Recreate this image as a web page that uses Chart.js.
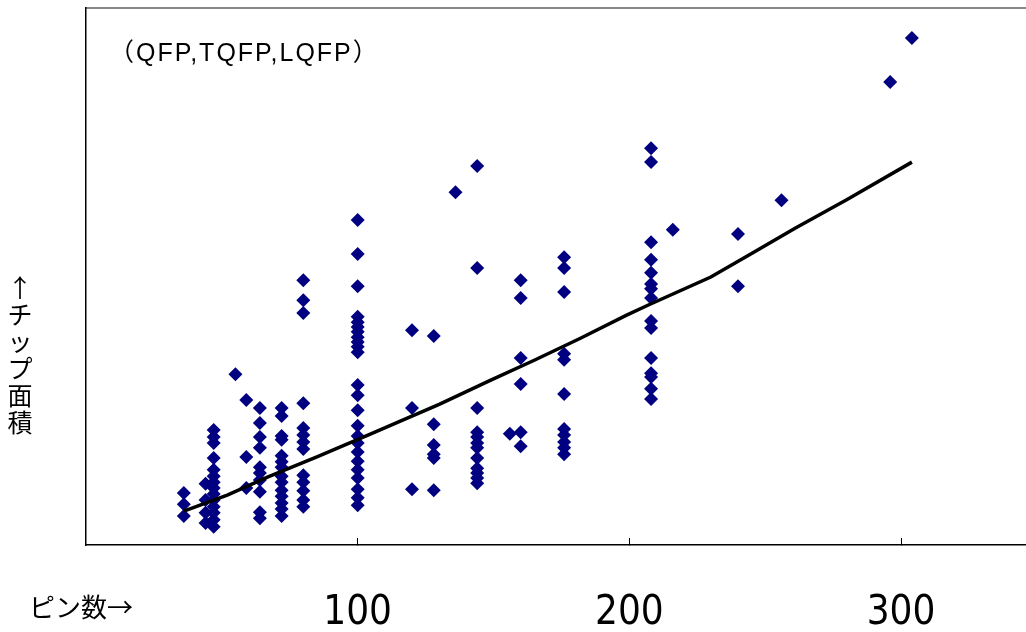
<!DOCTYPE html>
<html>
<head>
<meta charset="utf-8">
<script src="https://cdn.jsdelivr.net/npm/chart.js@4"></script>
<style>
  html, body { margin: 0; padding: 0; background: #fff; }
  #wrap { width: 1026px; height: 632px; position: relative; }
</style>
</head>
<body>
<div id="wrap"><canvas id="chart"></canvas></div>
<script>
// ピン数（横軸）
const pinCounts = [36, 44, 47, 55, 59, 64, 72, 80, 100, 120, 128, 136, 144, 156, 160, 176, 208, 216, 240, 256, 296, 304];
// チップ面積（縦軸、目盛なしの相対値） — pinCounts と同じ並び
const chipAreas = [
  [9.7, 7.6, 5.4],
  [11.4, 8.4, 6.0, 4.1],
  [21.4, 20.1, 19.0, 16.2, 14.0, 12.8, 11.7, 10.6, 9.5, 8.4, 7.1, 6.0, 4.7, 3.4],
  [31.8],
  [27.0, 16.4, 10.6],
  [25.5, 22.7, 20.1, 18.1, 14.5, 13.4, 12.1, 9.9, 6.1, 5.0],
  [25.5, 24.0, 20.3, 19.6, 16.6, 15.5, 14.5, 12.8, 11.7, 10.2, 9.1, 7.8, 6.7, 5.4],
  [49.3, 45.6, 43.2, 26.4, 21.8, 20.5, 19.2, 17.9, 13.0, 11.7, 10.1, 8.4, 7.1],
  [60.5, 54.2, 48.2, 42.5, 41.5, 40.6, 39.7, 38.7, 37.8, 36.9, 35.9, 29.8, 27.9, 25.1, 22.2, 20.3, 19.0, 17.3, 15.6, 14.0, 12.5, 10.4, 8.8, 7.4],
  [40.0, 25.5, 10.4],
  [38.9, 22.5, 18.6, 16.9, 16.2, 10.2],
  [65.7],
  [70.6, 51.6, 25.5, 21.0, 20.1, 19.0, 18.1, 16.2, 14.3, 13.4, 12.5, 11.5],
  [20.7],
  [49.3, 46.0, 34.8, 30.0, 21.0, 18.4],
  [53.6, 51.6, 47.1, 35.6, 34.5, 28.1, 21.6, 20.5, 19.2, 18.1, 16.9],
  [73.9, 71.3, 56.4, 53.1, 50.7, 48.6, 47.7, 46.0, 41.7, 40.4, 34.8, 32.0, 31.3, 29.1, 27.2],
  [58.7],
  [57.9, 48.2],
  [64.2],
  [86.2],
  [94.4]
];
// 近似曲線
const trendPins = [36, 52, 67, 85, 104, 114, 130, 149, 165, 182, 199, 207, 230, 245, 261, 280, 304];
const trendAreas = [6.3, 9.3, 12.7, 16.4, 20.5, 22.7, 26.2, 30.7, 34.4, 38.5, 42.8, 44.7, 49.9, 54.3, 59.0, 64.3, 71.3];
// 横軸目盛
const xTickValues = [100, 200, 300];

const caption = '（QFP,TQFP,LQFP）';
const yTitle = '↑チップ面積';
const xTitle = 'ピン数→';

const jpFont = '"Noto Sans CJK JP", sans-serif';
const capFont = '"Liberation Sans", "Noto Sans CJK JP", sans-serif';
const numFont = '"Liberation Sans Narrow", "DejaVu Sans Condensed", sans-serif';

const points = [];
pinCounts.forEach((pin, i) => {
  chipAreas[i].forEach(a => points.push({ x: pin, y: a }));
});
const trend = trendPins.map((p, i) => ({ x: p, y: trendAreas[i] }));

// 軸外の文字（縦書きのラベルなど）
const textPlugin = {
  id: 'textPlugin',
  afterDraw(chart) {
    const ctx = chart.ctx;
    const area = chart.chartArea;
    ctx.save();
    ctx.fillStyle = '#000';
    ctx.textBaseline = 'middle';

    ctx.font = '25px ' + capFont;
    ctx.letterSpacing = '2px';
    ctx.textAlign = 'left';
    ctx.fillText(caption, area.left + 23, area.top + 46);
    ctx.letterSpacing = '0px';

    ctx.font = '25px ' + jpFont;
    ctx.textAlign = 'center';
    [...yTitle].forEach((ch, i) => ctx.fillText(ch, 20, 287 + i * 27));

    ctx.font = '26px ' + jpFont;
    ctx.textAlign = 'left';
    ctx.fillText(xTitle, 29, 607);
    ctx.restore();
  }
};

new Chart(document.getElementById('chart'), {
  type: 'scatter',
  data: {
    datasets: [
      {
        type: 'line',
        data: trend,
        borderColor: '#000',
        borderWidth: 3.5,
        pointRadius: 0,
        tension: 0,
        fill: false,
        order: 0
      },
      {
        data: points,
        pointStyle: 'rectRot',
        pointRadius: 7,
        backgroundColor: '#000080',
        borderColor: '#000080',
        borderWidth: 0,
        order: 1
      }
    ]
  },
  options: {
    responsive: true,
    maintainAspectRatio: false,
    animation: false,
    layout: { autoPadding: false, padding: { top: 8, right: 0, bottom: 0, left: 0 } },
    plugins: {
      legend: { display: false },
      tooltip: { enabled: false }
    },
    scales: {
      x: {
        type: 'linear',
        min: 0,
        max: 346,
        afterBuildTicks: (axis) => { axis.ticks = xTickValues.map(v => ({ value: v })); },
        afterFit: (axis) => { axis.height = 87; },
        ticks: {
          color: '#000',
          font: { family: numFont, size: 40 },
          padding: 52,
          maxRotation: 0
        },
        grid: { drawOnChartArea: false, drawTicks: true, tickLength: -7, color: '#000', lineWidth: 1 },
        border: { color: '#000', width: 1.5 }
      },
      x2: {
        type: 'linear',
        position: 'top',
        min: 0,
        max: 346,
        afterFit: (axis) => { axis.height = 0; },
        ticks: { display: false },
        grid: { drawOnChartArea: false, drawTicks: false },
        border: { color: '#888', width: 2 }
      },
      y: {
        type: 'linear',
        min: 0,
        max: 100,
        afterFit: (axis) => { axis.width = 86; },
        ticks: { display: false },
        grid: { drawOnChartArea: false, drawTicks: false },
        border: { color: '#000', width: 1.5 }
      }
    }
  },
  plugins: [textPlugin]
});
</script>
</body>
</html>
